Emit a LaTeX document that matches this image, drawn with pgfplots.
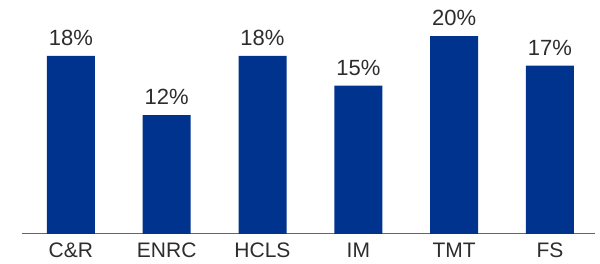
\documentclass[border=0pt]{standalone}
\usepackage{fontspec}
\setmainfont{Liberation Sans}
\usepackage{pgfplots}
\pgfplotsset{compat=1.18}
\definecolor{barblue}{RGB}{0,51,141}
\definecolor{txt}{RGB}{45,45,45}
\begin{document}
\begin{tikzpicture}
\useasboundingbox (-22pt,-30pt) rectangle (578pt,234pt);
\begin{axis}[
  scale only axis,
  width=573pt, height=234pt,
  xmin=-0.51, xmax=5.47,
  ymin=0, ymax=23.64,
  axis y line=none,
  axis x line*=bottom,
  x axis line style={draw=black!60, line width=1pt, -},
  xtick=data,
  xticklabels={C\&R,ENRC,HCLS,IM,TMT,FS},
  major tick length=0pt,
  xticklabel style={font=\fontsize{21}{24}\selectfont, text=txt, inner sep=0pt, anchor=north, yshift=-9pt},
  ybar, bar width=48pt,
  /pgf/number format/assume math mode=true,
  nodes near coords={\pgfmathprintnumber{\pgfplotspointmeta}\%},
  every node near coord/.append style={font=\fontsize{22}{24}\selectfont, text=txt, inner sep=0pt, anchor=south, yshift=10pt},
  clip=false,
]
\addplot[fill=barblue, draw=none] coordinates {(0,18) (1,12) (2,18) (3,15) (4,20) (5,17)};
\end{axis}
\end{tikzpicture}
\end{document}
